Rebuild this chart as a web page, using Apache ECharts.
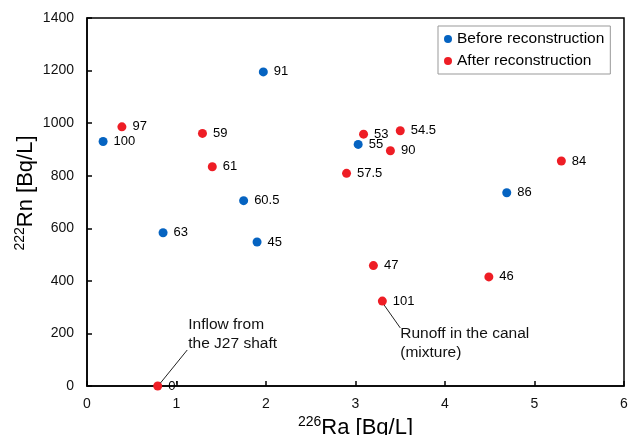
<!DOCTYPE html>
<html><head><meta charset="utf-8">
<script src="https://cdn.jsdelivr.net/npm/echarts@6/dist/echarts.min.js"></script>
<style>html,body{margin:0;padding:0;background:#fff}#c{width:630px;height:435px}</style>
</head><body><div id="c"></div>
<script>
const beforeX = [1.97, 0.18, 3.03, 1.75, 0.85, 1.90, 4.69];
const beforeY = [1195, 930, 919, 705, 583, 548, 735];
const beforeLabels = ['91', '100', '55', '60.5', '63', '45', '86'];
const afterX = [0.39, 1.29, 1.40, 2.90, 3.09, 3.50, 3.39, 5.30, 3.20, 4.49, 3.30, 0.79];
const afterY = [986, 961, 834, 809, 958, 971, 895, 856, 458, 415, 323, 0];
const afterLabels = ['97', '59', '61', '57.5', '53', '54.5', '90', '84', '47', '46', '101', "0'"];
const xTicks = [0, 1, 2, 3, 4, 5, 6];
const yTicks = [0, 200, 400, 600, 800, 1000, 1200, 1400];
const annotations = [
  { text: 'Inflow from\nthe J27 shaft', from: [0.82, 11], to: [1.12, 137], align: 'bottom' },
  { text: 'Runoff in the canal\n(mixture)', from: [3.32, 308], to: [3.50, 221], align: 'top' }
];

const FONT = 'Liberation Sans, Arial, sans-serif';
const BLUE = '#0563C1', RED = '#EE1D25';
const mk = (xs, ys, ls) => xs.map((x, i) => [x, ys[i], ls[i]]);
const ptLabel = { show: true, position: 'right', distance: 6, formatter: p => p.data[2], fontFamily: FONT, fontSize: 13, color: '#000' };
const supRich = { s: { fontFamily: FONT, fontSize: 14, color: '#000', verticalAlign: 'top', padding: [0, 0, 12, 0] } };

const chart = echarts.init(document.getElementById('c'), null, { renderer: 'canvas' });
chart.setOption({
  animation: false,
  backgroundColor: '#fff',
  grid: { left: 87, right: 6, top: 18, bottom: 49, outerBoundsMode: 'none', containLabel: false, show: true, borderColor: '#000', borderWidth: 1.5, backgroundColor: 'transparent' },
  legend: {
    left: 438, top: 26, orient: 'vertical', padding: [5, 6, 5, 6], itemGap: 6,
    borderColor: '#999', borderWidth: 1, icon: 'circle', itemWidth: 8, itemHeight: 8,
    textStyle: { fontFamily: FONT, fontSize: 15.5, color: '#000' },
    data: ['Before reconstruction', 'After reconstruction']
  },
  xAxis: {
    type: 'value', min: xTicks[0], max: xTicks[xTicks.length - 1], interval: 1,
    splitLine: { show: false },
    axisLine: { lineStyle: { color: '#000', width: 1.5 } },
    axisTick: { inside: true, length: 5, lineStyle: { color: '#000', width: 1.5 } },
    axisLabel: { fontFamily: FONT, fontSize: 14, color: '#111', margin: 11 },
    name: '{s|226}Ra [Bq/L]', nameLocation: 'middle', nameGap: 29, nameMoveOverlap: false,
    nameTextStyle: { fontFamily: FONT, fontSize: 22, color: '#000', rich: supRich }
  },
  yAxis: {
    type: 'value', min: yTicks[0], max: yTicks[yTicks.length - 1], interval: 200,
    splitLine: { show: false },
    axisLine: { lineStyle: { color: '#000', width: 1.5 } },
    axisTick: { inside: true, length: 5, lineStyle: { color: '#000', width: 1.5 } },
    axisLabel: { fontFamily: FONT, fontSize: 14, color: '#111', margin: 13, formatter: v => String(v) },
    name: '{s|222}Rn [Bq/L]', nameLocation: 'middle', nameGap: 48, nameMoveOverlap: false,
    nameTextStyle: { fontFamily: FONT, fontSize: 22, color: '#000', padding: [0, 0, 0, 18], rich: supRich }
  },
  series: [
    {
      name: 'Before reconstruction', type: 'scatter', symbolSize: 9,
      itemStyle: { color: BLUE, opacity: 1 }, data: mk(beforeX, beforeY, beforeLabels), label: ptLabel
    },
    {
      name: 'After reconstruction', type: 'scatter', symbolSize: 9,
      itemStyle: { color: RED, opacity: 1 }, data: mk(afterX, afterY, afterLabels), label: ptLabel,
      markLine: {
        silent: true, symbol: 'none', animation: false,
        lineStyle: { color: '#222', width: 1, type: 'solid', opacity: 1 }, label: { show: false },
        data: annotations.map(a => [{ coord: a.from }, { coord: a.to }])
      }
    },
    {
      name: 'notes', type: 'scatter', symbolSize: 0, silent: true, z: 1,
      itemStyle: { opacity: 1 },
      data: annotations.map(a => ({
        value: a.to,
        label: {
          show: true, position: [0, 0], align: 'left', verticalAlign: a.align,
          formatter: a.text, fontFamily: FONT, fontSize: 15.5, lineHeight: 19, color: '#111',
          offset: a.align === 'top' ? [0, -4] : [1, 3]
        }
      }))
    }
  ]
});
</script></body></html>
